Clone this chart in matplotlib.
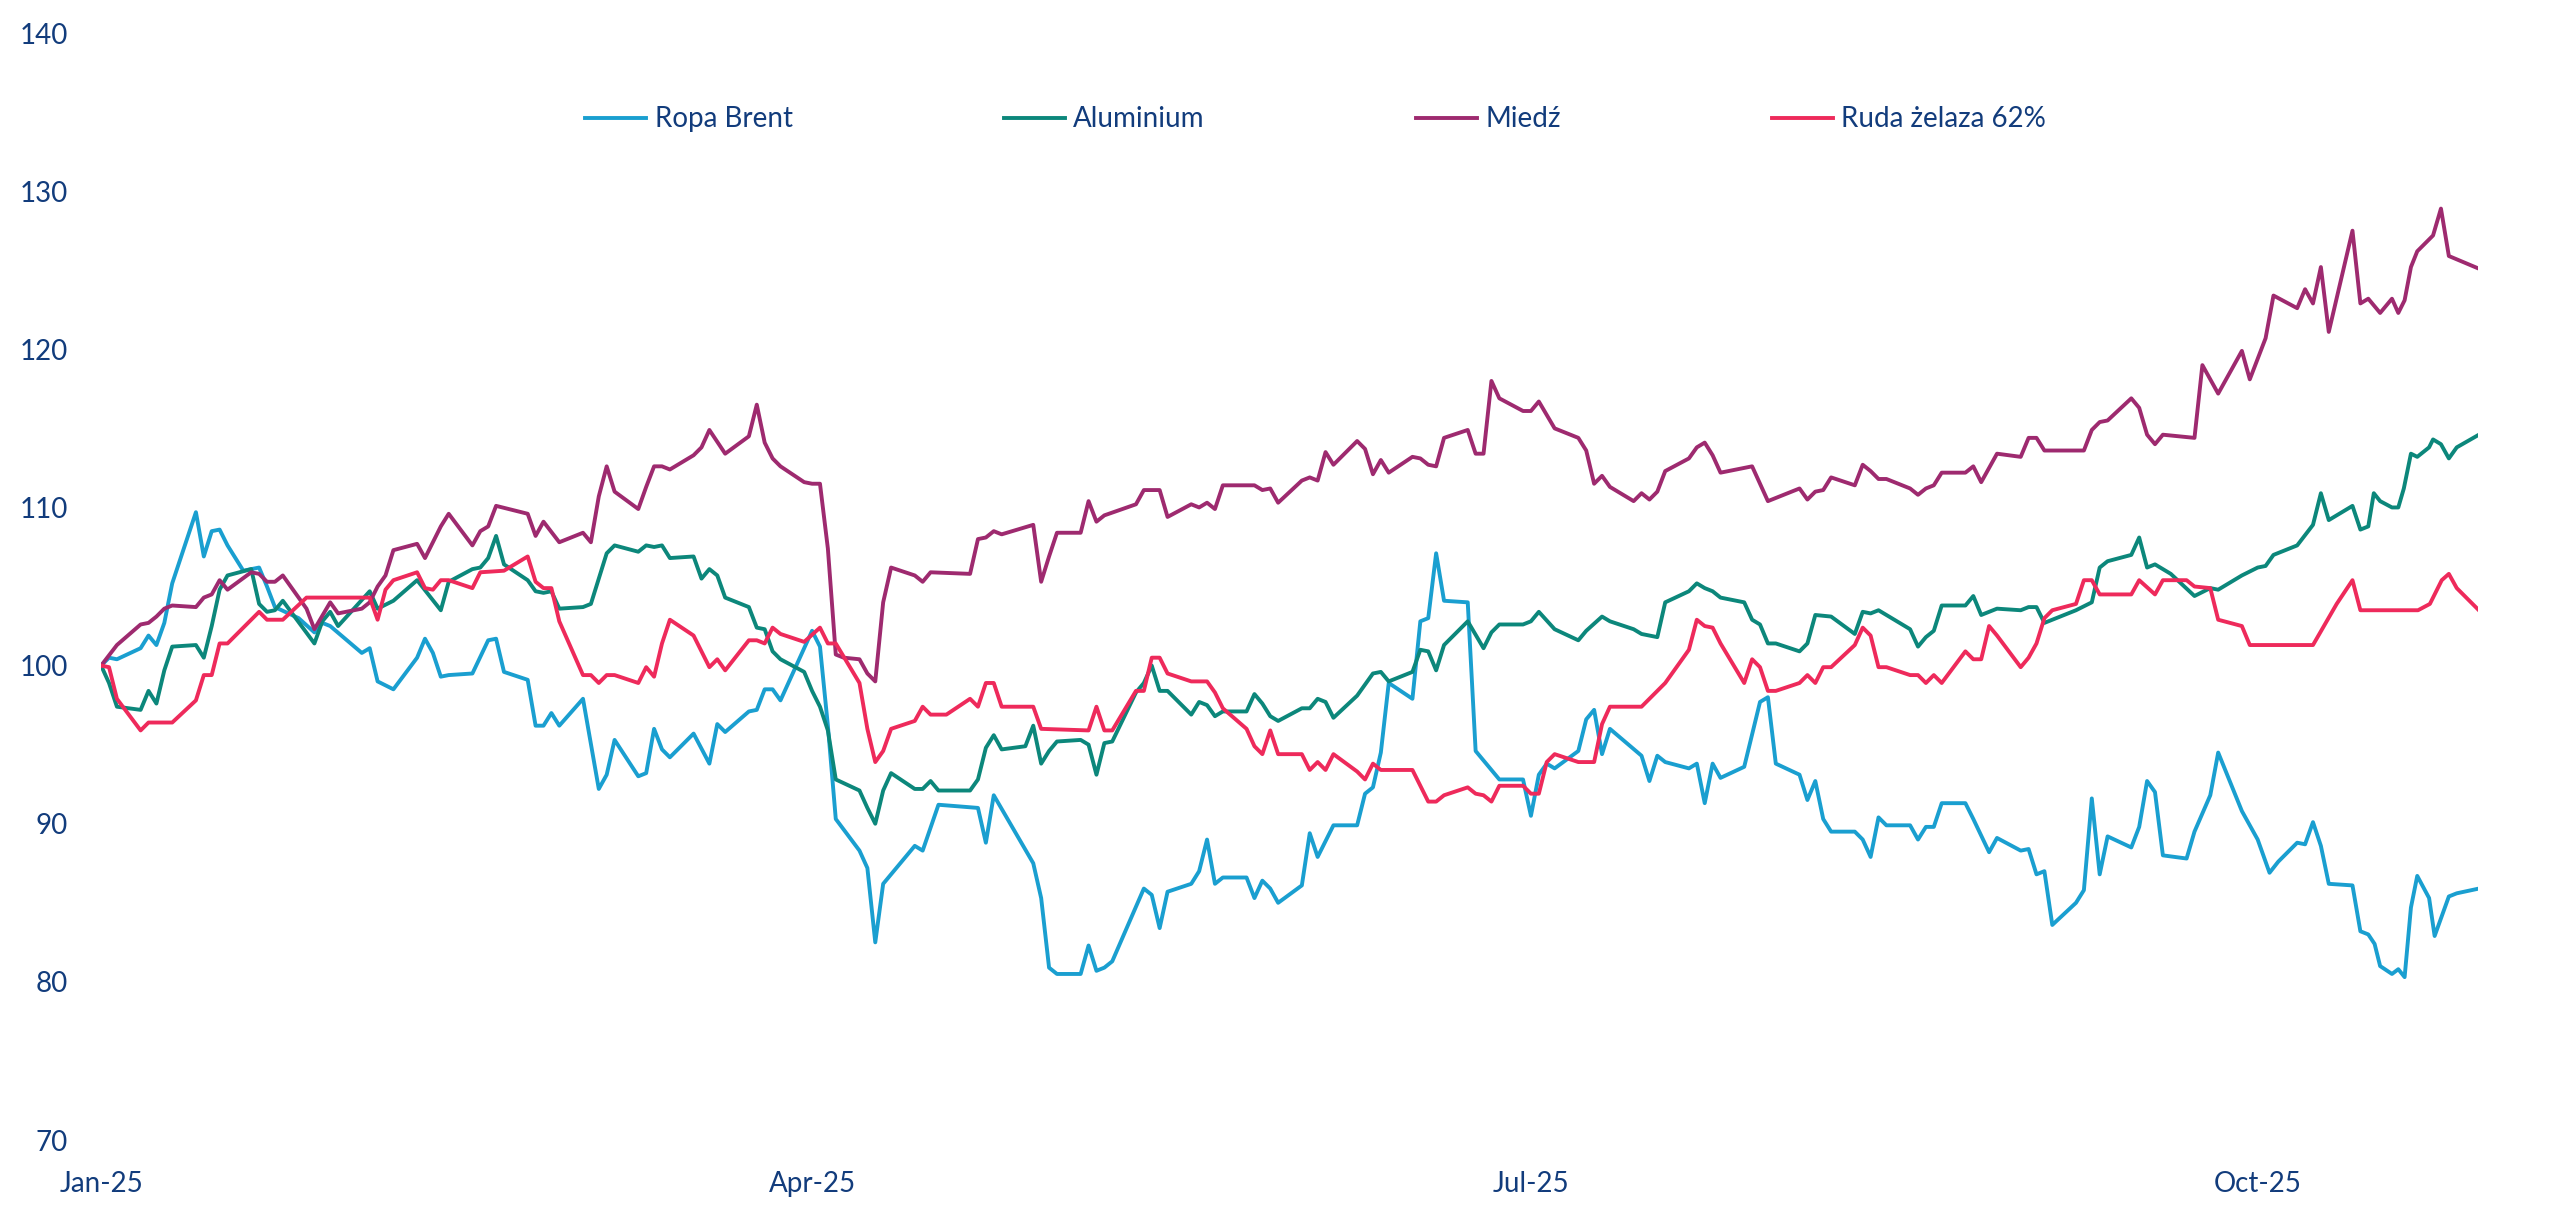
import matplotlib.pyplot as plt

# days since 2025-01-01 and index level (2025-01-02 = 100)
brent_days = [0, 1, 2, 5, 6, 7, 8, 9, 12, 13, 14, 15, 16, 18, 20, 21, 22, 25, 27, 28, 29, 33, 34, 35, 37,
              40, 41, 42, 43, 44, 47, 49, 50, 51, 54, 55, 56, 57, 58, 61, 63, 64, 65, 68, 69, 70, 71, 72,
              75, 77, 78, 79, 82, 83, 84, 85, 86, 90, 91, 92, 93, 96, 97, 98, 99, 103, 104, 106, 111, 112,
              113, 118, 119, 120, 121, 124, 125, 126, 127, 128, 132, 133, 134, 135, 138, 139, 140, 141, 142,
              145, 146, 147, 148, 149, 152, 153, 154, 155, 156, 159, 160, 161, 162, 163, 166, 167, 168, 169,
              170, 173, 174, 177, 180, 181, 182, 183, 184, 187, 188, 189, 190, 191, 195, 196, 197, 198, 201,
              202, 203, 204, 205, 208, 210, 211, 212, 215, 216, 217, 218, 219, 222, 223, 224, 225, 226, 229,
              230, 231, 232, 233, 236, 237, 239, 240, 243, 244, 245, 246, 247, 250, 251, 252, 253, 254, 257,
              258, 259, 260, 261, 264, 265, 267, 268, 271, 273, 274.5, 275.6, 278, 279, 280, 281, 282, 285,
              286, 287, 287.8, 288.5, 290, 290.8, 291.6, 292.4, 293.2, 294.7, 295.4, 297.2, 298.2, 301]
brent_vals = [100.0, 100.5, 100.4, 101.1, 101.9, 101.3, 102.7, 105.2, 109.7, 106.9, 108.5, 108.6, 107.6,
              106.0, 106.2, 105.0, 103.7, 103.0, 102.1, 102.7, 102.5, 100.8, 101.1, 99.0, 98.5, 100.5,
              101.7, 100.8, 99.3, 99.4, 99.5, 101.6, 101.7, 99.6, 99.1, 96.2, 96.2, 97.0, 96.2, 97.9, 92.2,
              93.1, 95.3, 93.0, 93.2, 96.0, 94.7, 94.2, 95.7, 93.8, 96.3, 95.8, 97.1, 97.2, 98.5, 98.5, 97.8,
              102.2, 101.2, 96.2, 90.3, 88.3, 87.2, 82.5, 86.2, 88.6, 88.3, 91.2, 91.0, 88.8, 91.8, 87.5,
              85.3, 80.9, 80.5, 80.5, 82.3, 80.7, 80.9, 81.3, 85.9, 85.5, 83.4, 85.7, 86.2, 87.0, 89.0, 86.2,
              86.6, 86.6, 85.3, 86.4, 85.9, 85.0, 86.1, 89.4, 87.9, 88.9, 89.9, 89.9, 91.9, 92.3, 94.5, 98.9,
              97.9, 102.8, 103.0, 107.1, 104.1, 104.0, 94.6, 92.8, 92.8, 90.5, 93.1, 93.8, 93.5, 94.6, 96.6,
              97.2, 94.4, 96.0, 94.3, 92.7, 94.3, 93.9, 93.5, 93.8, 91.3, 93.8, 92.9, 93.6, 97.7, 98.0, 93.8,
              93.1, 91.5, 92.7, 90.3, 89.5, 89.5, 89.0, 87.9, 90.4, 89.9, 89.9, 89.0, 89.8, 89.8, 91.3, 91.3,
              90.3, 88.2, 89.1, 88.3, 88.4, 86.8, 87.0, 83.6, 85.0, 85.8, 91.6, 86.8, 89.2, 88.5, 89.8, 92.7,
              92.0, 88.0, 87.8, 89.5, 91.8, 94.5, 90.8, 89.0, 86.9, 87.6, 88.8, 88.7, 90.1, 88.6, 86.2, 86.1,
              83.2, 83.0, 82.4, 81.0, 80.5, 80.8, 80.3, 84.7, 86.7, 85.3, 82.9, 85.4, 85.6, 85.9]

alu_days = [0, 1, 2, 5, 6, 7, 8, 9, 12, 13, 14, 15, 16, 19, 20, 21, 22, 23, 27, 28, 29, 30, 34, 35, 37, 40,
            43, 44, 47, 48, 49, 50, 51, 54, 55, 56, 57, 58, 61, 62, 64, 65, 68, 69, 70, 71, 72, 75, 76, 77,
            78, 79, 82, 83, 84, 85, 86, 89, 90, 91, 92, 93, 96, 97, 98, 99, 100, 103, 104, 105, 106, 110,
            111, 112, 113, 114, 117, 118, 119, 120, 121, 124, 125, 126, 127, 128, 131, 132, 133, 134, 135,
            138, 139, 140, 141, 142, 145, 146, 147, 148, 149, 152, 153, 154, 155, 156, 159, 161, 162, 163,
            166, 167, 168, 169, 170, 173, 175, 176, 177, 180, 181, 182, 184, 187, 188, 190, 191, 194, 195,
            197, 198, 201, 202, 203, 204, 205, 208, 209, 210, 211, 212, 215, 216, 217, 219, 222, 223, 224,
            225, 229, 230, 231, 232, 233, 236, 237, 238, 240, 243, 244, 245, 246, 250, 252, 253, 254, 257,
            258, 259, 260, 262, 265, 267, 268, 271, 273, 274, 275, 278, 280, 281, 282, 285, 286, 287, 287.7,
            288.5, 290, 290.8, 291.5, 292.4, 293.2, 294.7, 295.2, 296.2, 297.2, 298.2, 301]
alu_vals = [100.0, 98.9, 97.4, 97.2, 98.4, 97.6, 99.7, 101.2, 101.3, 100.5, 102.5, 104.8, 105.7, 106.1,
            103.9, 103.4, 103.5, 104.1, 101.4, 102.8, 103.4, 102.5, 104.7, 103.6, 104.1, 105.4, 103.5,
            105.3, 106.1, 106.2, 106.8, 108.2, 106.4, 105.4, 104.7, 104.6, 104.7, 103.6, 103.7, 103.9,
            107.1, 107.6, 107.2, 107.6, 107.5, 107.6, 106.8, 106.9, 105.5, 106.1, 105.7, 104.3, 103.7,
            102.4, 102.3, 100.9, 100.4, 99.6, 98.4, 97.4, 95.9, 92.8, 92.1, 91.0, 90.0, 92.1, 93.2, 92.2,
            92.2, 92.7, 92.1, 92.1, 92.8, 94.8, 95.6, 94.7, 94.9, 96.2, 93.8, 94.6, 95.2, 95.3, 95.0, 93.1,
            95.1, 95.2, 98.3, 98.9, 100.0, 98.4, 98.4, 96.9, 97.7, 97.5, 96.8, 97.1, 97.1, 98.2, 97.6,
            96.8, 96.5, 97.3, 97.3, 97.9, 97.7, 96.7, 98.1, 99.5, 99.6, 99.0, 99.6, 101.0, 100.9, 99.7,
            101.3, 102.8, 101.1, 102.1, 102.6, 102.6, 102.8, 103.4, 102.3, 101.6, 102.2, 103.1, 102.8,
            102.3, 102.0, 101.8, 104.0, 104.7, 105.2, 104.9, 104.7, 104.3, 104.0, 102.9, 102.6, 101.4,
            101.4, 100.9, 101.4, 103.2, 103.1, 102.0, 103.4, 103.3, 103.5, 102.3, 101.2, 101.8, 102.2,
            103.8, 103.8, 104.4, 103.2, 103.6, 103.5, 103.7, 103.7, 102.7, 103.5, 104.0, 106.2, 106.6,
            107.0, 108.1, 106.2, 106.4, 105.8, 104.4, 104.9, 104.8, 105.7, 106.2, 106.3, 107.0, 107.6,
            108.9, 110.9, 109.2, 110.1, 108.6, 108.8, 110.9, 110.4, 110.0, 110.0, 111.2, 113.4, 113.2,
            113.8, 114.3, 114.0, 113.1, 113.8, 114.6]

cu_days = [0, 2, 5, 6, 7, 8, 9, 12, 13, 14, 15, 16, 19, 20, 21, 22, 23, 26, 27, 29, 30, 33, 34, 35, 36, 37,
           40, 41, 43, 44, 47, 48, 49, 50, 54, 55, 56, 58, 61, 62, 63, 64, 65, 68, 69, 70, 71, 72, 75, 76,
           77, 79, 82, 83, 84, 85, 86, 89, 90, 91, 92, 93, 94, 96, 97, 98, 99, 100, 103, 104, 105, 110, 111,
           112, 113, 114, 118, 119, 120, 121, 124, 125, 126, 127, 131, 132, 134, 135, 138, 139, 140, 141,
           142, 146, 147, 148, 149, 152, 153, 154, 155, 156, 159, 160, 161, 162, 163, 166, 167, 168, 169,
           170, 173, 174, 175, 176, 177, 180, 181, 182, 184, 187, 188, 189, 190, 191, 194, 195, 196, 197,
           198, 201, 202, 203, 204, 205, 209, 211, 215, 216, 217, 218, 219, 222, 223, 224, 225, 226, 229,
           230, 231, 232, 233, 236, 237, 238, 240, 243, 244, 245, 246, 251, 252, 253, 254, 257, 258, 259,
           260, 261, 265, 266, 268, 271, 272, 274, 275, 278, 279, 280, 281, 282, 285, 286, 287, 288.5,
           290, 290.8, 291.6, 292.4, 293.2, 295.2, 296.2, 297.2, 301]
cu_vals = [100.0, 101.3, 102.6, 102.7, 103.1, 103.6, 103.8, 103.7, 104.3, 104.5, 105.4, 104.8, 105.9,
           105.8, 105.3, 105.3, 105.7, 103.6, 102.3, 104.0, 103.3, 103.6, 104.0, 105.0, 105.7, 107.3,
           107.7, 106.8, 108.8, 109.6, 107.6, 108.5, 108.8, 110.1, 109.6, 108.2, 109.1, 107.8, 108.4,
           107.8, 110.7, 112.6, 111.0, 109.9, 111.3, 112.6, 112.6, 112.4, 113.3, 113.8, 114.9, 113.4,
           114.5, 116.5, 114.1, 113.1, 112.6, 111.6, 111.5, 111.5, 107.4, 100.7, 100.5, 100.4, 99.5, 99.0,
           104.0, 106.2, 105.7, 105.3, 105.9, 105.8, 108.0, 108.1, 108.5, 108.3, 108.9, 105.3, 106.9,
           108.4, 108.4, 110.4, 109.1, 109.5, 110.2, 111.1, 111.1, 109.4, 110.2, 110.0, 110.3, 109.9,
           111.4, 111.4, 111.1, 111.2, 110.3, 111.7, 111.9, 111.7, 113.5, 112.7, 114.2, 113.7, 112.1,
           113.0, 112.2, 113.2, 113.1, 112.7, 112.6, 114.4, 114.9, 113.4, 113.4, 118.0, 116.9, 116.1,
           116.1, 116.7, 115.0, 114.4, 113.6, 111.5, 112.0, 111.3, 110.4, 110.9, 110.5, 111.0, 112.3,
           113.1, 113.8, 114.1, 113.3, 112.2, 112.6, 110.4, 111.2, 110.5, 111.0, 111.1, 111.9, 111.4,
           112.7, 112.3, 111.8, 111.8, 111.2, 110.8, 111.2, 111.4, 112.2, 112.2, 112.6, 111.6, 113.4,
           113.2, 114.4, 114.4, 113.6, 113.6, 114.9, 115.4, 115.5, 116.9, 116.3, 114.6, 114.0, 114.6,
           114.4, 119.0, 117.2, 119.9, 118.1, 120.7, 123.4, 122.6, 123.8, 122.9, 125.2, 121.1, 127.5,
           122.9, 123.2, 122.3, 123.2, 122.3, 123.1, 125.2, 126.2, 127.2, 128.9, 125.9, 125.1]

ore_days = [0, 1, 2, 5, 6, 9, 12, 13, 14, 15, 16, 20, 21, 23, 26, 34, 35, 36, 37, 40, 41, 42, 43, 44, 47,
            48, 51, 54, 55, 56, 57, 58, 61, 62, 63, 64, 65, 68, 69, 70, 71, 72, 75, 77, 78, 79, 82, 83, 84,
            85, 86, 89, 91, 92, 93, 96, 97, 98, 99, 100, 103, 104, 105, 107, 110, 111, 112, 113, 114, 118,
            119, 125, 126, 127, 128, 131, 132, 133, 134, 135, 138, 140, 141, 142, 145, 146, 147, 148, 149,
            152, 153, 154, 155, 156, 159, 160, 161, 162, 166, 168, 169, 170, 173, 174, 175, 176, 177, 180,
            181, 182, 183, 184, 187, 189, 190, 191, 195, 198, 201, 202, 203, 204, 205, 208, 209, 210, 211,
            212, 215, 216, 217, 218, 219, 222, 223, 224, 225, 226, 229, 230, 231, 232, 233, 236, 237, 238,
            239, 240, 243, 244, 245, 246, 247, 250, 251, 252, 253, 257, 258, 260, 261, 264, 265, 267, 268,
            271, 272, 280, 283, 285, 286, 293.3, 294.8, 295.4, 296.3, 297.2, 298.2, 301]
ore_vals = [100.0, 99.9, 97.9, 95.9, 96.4, 96.4, 97.8, 99.4, 99.4, 101.4, 101.4, 103.4, 102.9, 102.9,
            104.3, 104.3, 102.9, 104.8, 105.4, 105.9, 104.9, 104.8, 105.4, 105.4, 104.9, 105.9, 106.0,
            106.9, 105.3, 104.9, 104.9, 102.8, 99.4, 99.4, 98.9, 99.4, 99.4, 98.9, 99.9, 99.3, 101.4,
            102.9, 101.9, 99.9, 100.4, 99.7, 101.6, 101.6, 101.4, 102.4, 102.0, 101.5, 102.4, 101.4,
            101.4, 98.9, 96.0, 93.9, 94.6, 96.0, 96.5, 97.4, 96.9, 96.9, 97.9, 97.4, 98.9, 98.9, 97.4,
            97.4, 96.0, 95.9, 97.4, 95.9, 95.9, 98.4, 98.4, 100.5, 100.5, 99.5, 99.0, 99.0, 98.3, 97.3,
            96.0, 94.9, 94.4, 95.9, 94.4, 94.4, 93.4, 93.9, 93.4, 94.4, 93.3, 92.8, 93.8, 93.4, 93.4,
            91.4, 91.4, 91.8, 92.3, 91.9, 91.8, 91.4, 92.4, 92.4, 91.9, 91.9, 93.9, 94.4, 93.9, 93.9,
            96.3, 97.4, 97.4, 98.9, 101.0, 102.9, 102.5, 102.4, 101.4, 98.9, 100.4, 99.9, 98.4, 98.4,
            98.9, 99.4, 98.9, 99.9, 99.9, 101.3, 102.4, 101.9, 99.9, 99.9, 99.4, 99.4, 98.9, 99.4, 98.9,
            100.9, 100.4, 100.4, 102.5, 101.9, 99.9, 100.5, 101.4, 103.0, 103.5, 103.9, 105.4, 105.4,
            104.5, 104.5, 105.4, 104.5, 105.4, 105.4, 105.0, 104.9, 102.9, 102.5, 101.3, 101.3, 103.9,
            105.4, 103.5, 103.5, 103.9, 104.5, 105.4, 105.8, 104.9, 103.5]

labels = ['Ropa Brent', 'Aluminium', 'Miedź', 'Ruda żelaza 62%']
colors = ['#1A9FD0', '#0C877B', '#9E2A6F', '#EE2A5B']
month_ticks = [0, 90, 181, 273]
month_labels = ['Jan-25', 'Apr-25', 'Jul-25', 'Oct-25']

plt.rcParams['font.family'] = ['Lato', 'DejaVu Sans']
text_color = '#123C7C'

fig = plt.figure(figsize=(25.6, 12.19), dpi=100)
ax = fig.add_axes([0.0395, 0.0648, 0.9285, 0.9081])

series = [(brent_days, brent_vals), (alu_days, alu_vals), (cu_days, cu_vals), (ore_days, ore_vals)]
for (d, v), lab, c in zip(series, labels, colors):
    ax.plot(d, v, color=c, lw=2.8, label=lab, solid_joinstyle='round')

ax.set_xlim(0, 300.9)
ax.set_ylim(70, 140)
ax.set_yticks(range(70, 141, 10))
ax.set_xticks(month_ticks)
ax.set_xticklabels(month_labels)
ax.tick_params(axis='both', length=0, labelsize=20, labelcolor=text_color)
ax.tick_params(axis='y', pad=24)
ax.tick_params(axis='x', pad=22)
for s in ax.spines.values():
    s.set_visible(False)

fig.legend(loc='center', bbox_to_anchor=(0.514, 0.902), ncol=4, frameon=False,
           fontsize=20, labelcolor=text_color, handlelength=2.2, handletextpad=0.3,
           columnspacing=7.6)

fig.savefig('out.png', dpi=100)
